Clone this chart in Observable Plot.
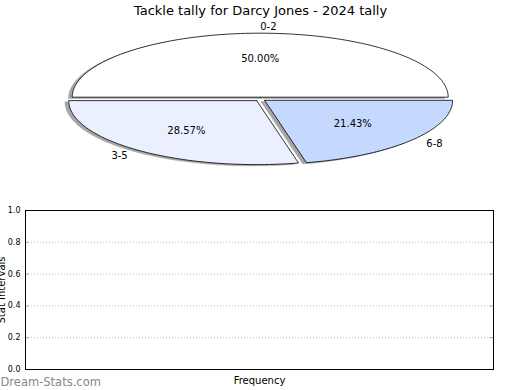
<!DOCTYPE html>
<html><head><meta charset="utf-8">
<script src="https://cdn.jsdelivr.net/npm/d3@7"></script>
<script src="https://cdn.jsdelivr.net/npm/@observablehq/plot@0.6"></script>
<style>body{margin:0;background:#fff;font-family:"DejaVu Sans",sans-serif}svg{display:block}</style>
</head><body><div id="c"></div>
<script>
const title = "Tackle tally for Darcy Jones - 2024 tally";
const categories = ["0-2", "3-5", "6-8"];
const counts = [7, 4, 3];
const wedgeColors = ["#ffffff", "#eaf0ff", "#c5d9ff"];
const yTicks = [0, 0.2, 0.4, 0.6, 0.8, 1.0];
const yLabel = "Stat Intervals";
const xLabel = "Frequency";
const watermark = "Dream-Stats.com";

const total = d3.sum(counts);
const explode = 0.03;
let start = 0;
const wedges = categories.map((c, i) => {
  const frac = counts[i] / total;
  const a0 = start, a1 = start + frac * 2 * Math.PI; start = a1;
  const mid = (a0 + a1) / 2;
  return {c, i, frac, a0, a1, mid, ox: explode * Math.cos(mid), oy: explode * Math.sin(mid)};
});
const poly = [], shadow = [];
for (const w of wedges) {
  const n = Math.max(2, Math.ceil((w.a1 - w.a0) / (Math.PI / 120)));
  const pts = [[w.ox, w.oy]];
  for (let k = 0; k <= n; k++) { const a = w.a0 + (w.a1 - w.a0) * k / n; pts.push([w.ox + Math.cos(a), w.oy + Math.sin(a)]); }
  pts.push([w.ox, w.oy]);
  for (const [x, y] of pts) { poly.push({x, y, c: w.c, col: wedgeColors[w.i]}); shadow.push({x: x - 0.02, y: y - 0.02, c: w.c}); }
}
const pctLabels = wedges.map(w => ({x: w.ox + 0.6 * Math.cos(w.mid), y: w.oy + 0.6 * Math.sin(w.mid), t: (w.frac * 100).toFixed(2) + "%"}));
const catLabels = wedges.map(w => {
  const x = w.ox + 1.1 * Math.cos(w.mid);
  return {x, y: w.oy + 1.1 * Math.sin(w.mid), t: w.c, a: x > 0 ? "start" : "end"};
});

const W = 520, H1 = 190, cx = 259.7, cy = 98.6, rx = 188, ry = 64;
const pie = Plot.plot({
  width: W, height: H1, margin: 0,
  x: {domain: [-cx / rx, (W - cx) / rx], axis: null},
  y: {domain: [-(H1 - cy) / ry, cy / ry], axis: null},
  color: {type: "identity"},
  style: {fontFamily: "DejaVu Sans", background: "#fff", color: "#000"},
  marks: [
    Plot.line(shadow, {x: "x", y: "y", z: "c", fill: "#a6a6a6", stroke: "#a6a6a6", strokeWidth: 0.5, curve: "linear"}),
    Plot.line(poly, {x: "x", y: "y", z: "c", fill: "col", stroke: "#000", strokeWidth: 0.8, curve: "linear"}),
    Plot.text(pctLabels, {x: "x", y: "y", text: "t", fontSize: 10, fill: "#000"}),
    Plot.text(catLabels.filter(d => d.a === "start"), {x: "x", y: "y", text: "t", fontSize: 10, fill: "#000", textAnchor: "start"}),
    Plot.text(catLabels.filter(d => d.a === "end"), {x: "x", y: "y", text: "t", fontSize: 10, fill: "#000", textAnchor: "end"}),
    Plot.text([title], {text: d => d, frameAnchor: "top", dy: 10, lineAnchor: "middle", fontSize: 13, fill: "#000"})
  ]
});

const H2 = 200;
const bottom = Plot.plot({
  width: W, height: H2, marginLeft: 25, marginRight: 27, marginTop: 20, marginBottom: 21,
  x: {domain: [0, 1], axis: null},
  y: {domain: [0, 1], axis: null},
  style: {fontFamily: "DejaVu Sans", background: "#fff", color: "#000"},
  marks: [
    Plot.ruleY(yTicks.slice(1, -1), {stroke: "#bbb", strokeDasharray: "1,2"}),
    Plot.ruleY(yTicks, {x1: 0, x2: 0.008, stroke: "#aaa"}),
    Plot.ruleY(yTicks, {x1: 0.992, x2: 1, stroke: "#aaa"}),
    Plot.frame({stroke: "#000"}),
    Plot.axisY(yTicks, {tickSize: 0, tickPadding: 5, tickFormat: d => d.toFixed(1), fontSize: 8, label: null}),
    Plot.text([yLabel], {text: d => d, frameAnchor: "left", dx: -24, rotate: -90, textAnchor: "middle", lineAnchor: "middle", fontSize: 10, fill: "#000"}),
    Plot.text([xLabel], {text: d => d, frameAnchor: "bottom", dy: 11, lineAnchor: "middle", fontSize: 10, fill: "#000"}),
    Plot.text([watermark], {text: d => d, frameAnchor: "bottom-left", dx: -25, dy: 12.5, textAnchor: "start", lineAnchor: "middle", fill: "#888", fontSize: 11.5})
  ]
});
const c = document.getElementById("c");
c.appendChild(pie);
c.appendChild(bottom);
</script></body></html>
